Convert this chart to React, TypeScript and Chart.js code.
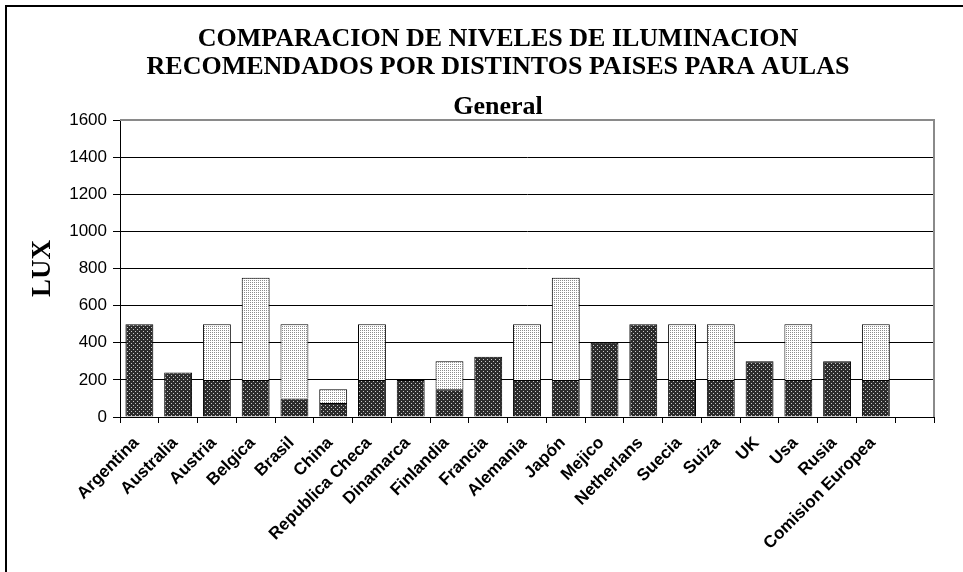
import { useEffect, useRef } from 'react';
import { Chart, registerables } from 'chart.js';

Chart.register(...registerables);

const categories = [
  'Argentina', 'Australia', 'Austria', 'Belgica', 'Brasil', 'China', 'Republica Checa',
  'Dinamarca', 'Finlandia', 'Francia', 'Alemania', 'Japón', 'Mejico', 'Netherlans',
  'Suecia', 'Suiza', 'UK', 'Usa', 'Rusia', 'Comision Europea', '',
];
const minimumLux = [500, 240, 200, 200, 100, 75, 200, 200, 150, 325, 200, 200, 400, 500, 200, 200, 300, 200, 300, 200, null];
const additionalLux = [null, null, 300, 550, 400, 75, 300, null, 150, null, 300, 550, null, null, 300, 300, null, 300, null, 300, null];
const yMin = 0;
const yMax = 1600;
const yStep = 200;
const titleLines = [
  'COMPARACION DE NIVELES DE ILUMINACION',
  'RECOMENDADOS POR DISTINTOS PAISES PARA AULAS',
];
const subtitleText = 'General';
const yAxisTitle = 'LUX';

function makePattern(ctx: CanvasRenderingContext2D, bg: string, dot: string, size: number, cells: [number, number][]) {
  const c = document.createElement('canvas');
  c.width = size;
  c.height = size;
  const x = c.getContext('2d')!;
  x.fillStyle = bg;
  x.fillRect(0, 0, size, size);
  x.fillStyle = dot;
  cells.forEach(([a, b]) => x.fillRect(a, b, 1, 1));
  return ctx.createPattern(c, 'repeat')!;
}

const framePlugin = {
  id: 'frame',
  beforeDraw(chart: any) {
    const { ctx, width, height } = chart;
    ctx.save();
    ctx.fillStyle = '#fff';
    ctx.fillRect(0, 0, width, height);
    ctx.strokeStyle = '#000';
    ctx.lineWidth = 2;
    ctx.beginPath();
    ctx.moveTo(6, height);
    ctx.lineTo(6, 6);
    ctx.lineTo(width, 6);
    ctx.stroke();
    ctx.restore();
  },
  afterDraw(chart: any) {
    const { ctx, chartArea } = chart;
    ctx.save();
    ctx.strokeStyle = '#8a8a8a';
    ctx.lineWidth = 2;
    ctx.beginPath();
    ctx.moveTo(chartArea.left, chartArea.top);
    ctx.lineTo(chartArea.right, chartArea.top);
    ctx.lineTo(chartArea.right, chartArea.bottom);
    ctx.stroke();
    ctx.restore();
  },
};

export default function App() {
  const ref = useRef<HTMLCanvasElement>(null);
  useEffect(() => {
    const canvas = ref.current!;
    const ctx = canvas.getContext('2d')!;
    const darkPattern = makePattern(ctx, '#2c2c2c', '#c8c8c8', 4, [[1, 1], [3, 3]]);
    const lightPattern = makePattern(ctx, '#ffffff', '#8c8c8c', 2, [[0, 0]]);
    const chart = new Chart(canvas, {
      type: 'bar',
      data: {
        labels: categories,
        datasets: [
          {
            label: 'Mínimo',
            data: minimumLux,
            backgroundColor: darkPattern,
            borderColor: '#000',
            borderWidth: 1,
            categoryPercentage: 1,
            barPercentage: 0.72,
          },
          {
            label: 'Máximo',
            data: additionalLux,
            backgroundColor: lightPattern,
            borderColor: '#000',
            borderWidth: 1,
            categoryPercentage: 1,
            barPercentage: 0.72,
          },
        ],
      },
      options: {
        responsive: false,
        animation: false,
        devicePixelRatio: 1,
        layout: { padding: { top: 0, left: 62, right: 29, bottom: 0 } },
        plugins: {
          legend: { display: false },
          tooltip: { enabled: false },
          title: {
            display: true,
            text: titleLines,
            color: '#000',
            font: { family: 'Liberation Serif', size: 26, weight: 'bold', lineHeight: 28 / 26 },
            padding: { top: 25, bottom: 0 },
          },
          subtitle: {
            display: true,
            text: subtitleText,
            color: '#000',
            font: { family: 'Liberation Serif', size: 26, weight: 'bold', lineHeight: 1 },
            padding: { top: 13, bottom: 0 },
          },
        },
        scales: {
          x: {
            stacked: true,
            offset: true,
            grid: {
              offset: true,
              drawOnChartArea: false,
              drawTicks: true,
              tickLength: 6,
              color: '#000',
            },
            border: { color: '#000', width: 1 },
            ticks: {
              autoSkip: false,
              minRotation: 45,
              maxRotation: 45,
              color: '#000',
              padding: 10,
              labelOffset: -3,
              font: { family: 'Liberation Sans', size: 17, weight: 'bold' },
            },
            afterFit(scale: any) {
              scale.height = 155;
            },
          },
          y: {
            stacked: true,
            min: yMin,
            max: yMax,
            ticks: {
              stepSize: yStep,
              color: '#000',
              padding: 6,
              font: { family: 'Liberation Sans', size: 17 },
              callback: (v: any) => String(v),
            },
            grid: { color: '#000', lineWidth: 1, tickLength: 7 },
            border: { color: '#000', width: 1 },
            title: {
              display: true,
              text: yAxisTitle,
              color: '#000',
              font: { family: 'Liberation Serif', size: 27, weight: 'bold', lineHeight: 1.2 },
              padding: { top: -35, bottom: 0 },
            },
            afterFit(scale: any) {
              scale.width = 58;
            },
          },
        },
      },
      plugins: [framePlugin],
    });
    return () => chart.destroy();
  }, []);
  return (
    <div style={{ position: 'absolute', left: 0, top: 0, width: 963, height: 572 }}>
      <canvas ref={ref} width={963} height={572} />
    </div>
  );
}
